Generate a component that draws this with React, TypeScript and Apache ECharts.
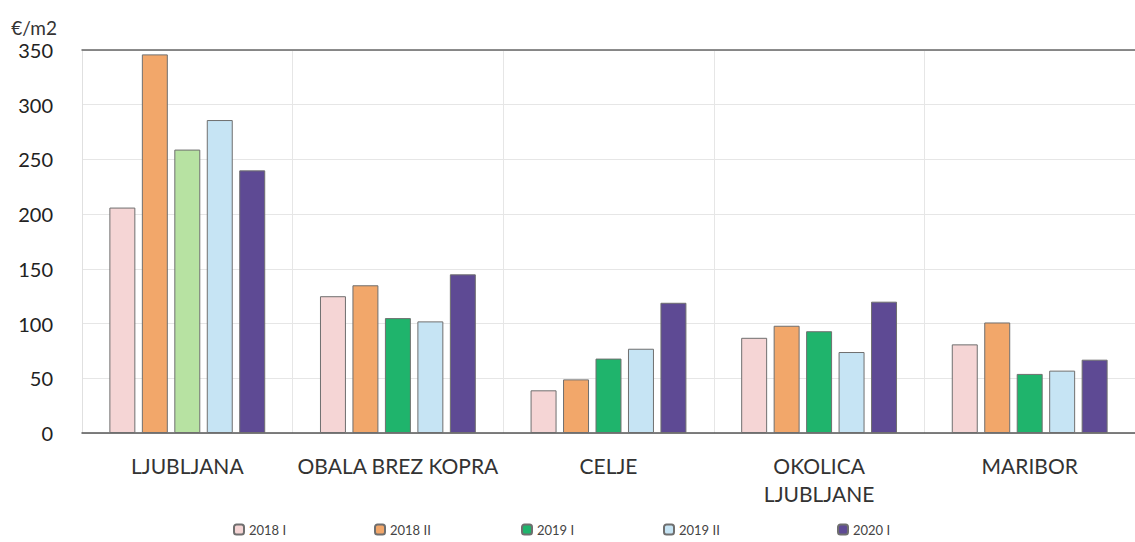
import React, { useEffect, useRef } from "react";
import * as echarts from "echarts";

const categories = ["LJUBLJANA", "OBALA BREZ KOPRA", "CELJE", "OKOLICA\nLJUBLJANE", "MARIBOR"];
const seriesNames = ["2018 I", "2018 II", "2019 I", "2019 II", "2020 I"];
const v2018I = [206, 125, 39, 87, 81];
const v2018II = [346, 135, 49, 98, 101];
const v2019I = [259, 105, 68, 93, 54];
const v2019II = [286, 102, 77, 74, 57];
const v2020I = [240, 145, 119, 120, 67];
const seriesColors = ["#f5d5d5", "#f2a76a", "#1fb46c", "#c6e4f4", "#5e4a94"];
const ljubljana2019Color = "#b7e2a2";
const yTicks = { min: 0, max: 350, interval: 50 };
const legendLefts = [231, 372, 519, 661, 835];

export default function App() {
  const ref = useRef<HTMLDivElement>(null);
  useEffect(() => {
    document.body.style.margin = "0";
    const chart = echarts.init(ref.current!, undefined, { renderer: "svg" });
    const values = [v2018I, v2018II, v2019I, v2019II, v2020I];
    const series = seriesNames.map((name, i) => ({
      name,
      type: "bar",
      xAxisIndex: 0,
      barGap: "25%",
      barCategoryGap: "26%",
      itemStyle: { color: seriesColors[i], borderColor: "#6f6f6f", borderWidth: 1 },
      data: values[i].map((v, j) =>
        i === 2 && j === 0 ? { value: v, itemStyle: { color: ljubljana2019Color } } : v
      ),
    }));
    chart.setOption({
      animation: false,
      textStyle: { fontFamily: "Lato" },
      grid: { left: 82, top: 50, width: 1060, height: 383, containLabel: false },
      legend: seriesNames.map((n, i) => ({
        data: [n],
        left: legendLefts[i],
        top: 521,
        padding: 2,
        itemWidth: 10,
        itemHeight: 10,
        itemGap: 4,
        textStyle: { fontSize: 13, color: "#444", fontFamily: "Lato" },
      })),
      xAxis: [
        {
          type: "category",
          data: categories,
          axisLine: { show: true, lineStyle: { color: "#555", width: 1.5 } },
          axisTick: { show: false },
          splitLine: { show: true, interval: 0, lineStyle: { color: "#e6e6e6" } },
          axisLabel: { interval: 0, fontSize: 21, color: "#333", margin: 18, lineHeight: 28 },
        },
        {
          type: "category",
          data: categories,
          position: "top",
          axisLine: { show: true, lineStyle: { color: "#666", width: 1.5 } },
          axisTick: { show: false },
          axisLabel: { show: false },
        },
      ],
      yAxis: {
        type: "value",
        min: yTicks.min,
        max: yTicks.max,
        interval: yTicks.interval,
        name: "€/m2",
        nameGap: 13,
        nameTextStyle: { align: "right", fontSize: 19, color: "#333", padding: [0, 25, 0, 0] },
        axisLine: { show: true, lineStyle: { color: "#e0e0e0" } },
        axisTick: { show: false },
        splitLine: { lineStyle: { color: "#e6e6e6" } },
        axisLabel: { fontSize: 20, color: "#222", margin: 29 },
      },
      series,
    });
    return () => chart.dispose();
  }, []);
  return <div ref={ref} style={{ position: "absolute", left: 0, top: 0, width: 1135, height: 542 }} />;
}
